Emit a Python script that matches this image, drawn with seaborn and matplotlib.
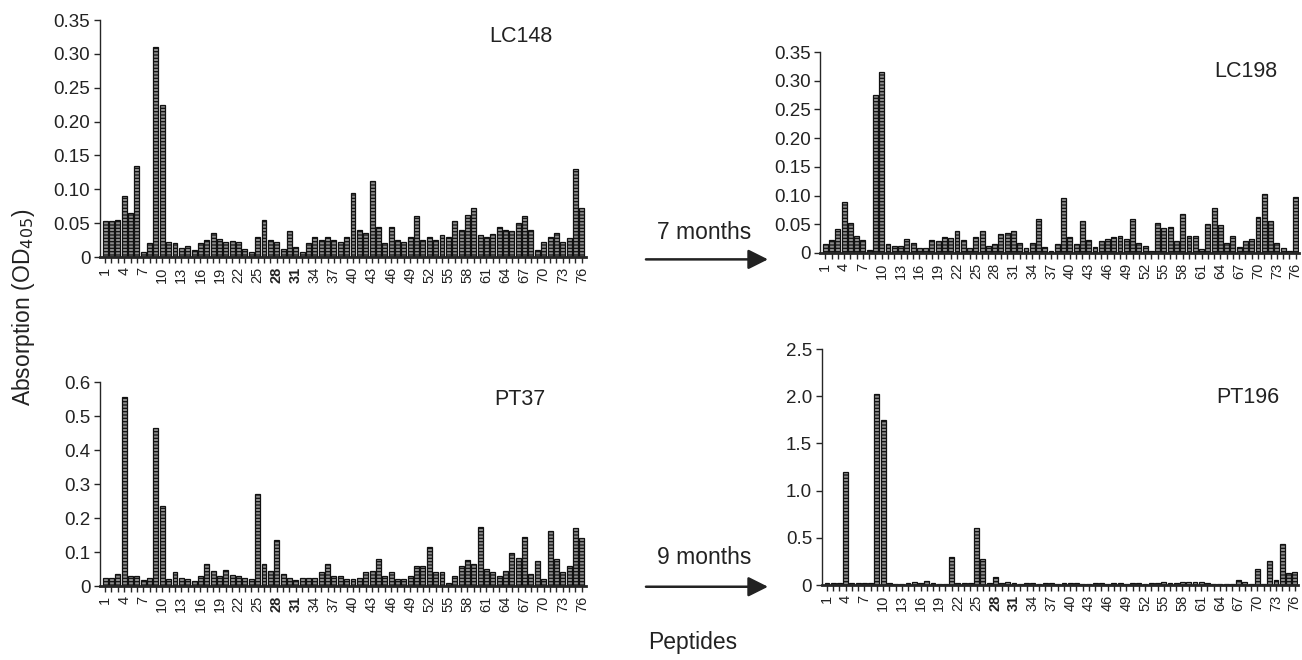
import numpy as np
import pandas as pd
import matplotlib
matplotlib.use("Agg")
import matplotlib.pyplot as plt
import seaborn as sns

# -------------------------------
# Data
# -------------------------------
peptides = [str(i) for i in range(1, 77)]

lc148 = [0.053, 0.053, 0.054, 0.090, 0.065, 0.135, 0.008, 0.020, 0.310, 0.225,
         0.022, 0.020, 0.013, 0.016, 0.010, 0.020, 0.025, 0.035, 0.026, 0.022,
         0.024, 0.022, 0.012, 0.008, 0.030, 0.055, 0.025, 0.022, 0.012, 0.038,
         0.015, 0.008, 0.020, 0.030, 0.025, 0.030, 0.025, 0.022, 0.030, 0.095,
         0.040, 0.035, 0.112, 0.045, 0.020, 0.045, 0.025, 0.022, 0.030, 0.060,
         0.025, 0.030, 0.025, 0.032, 0.030, 0.053, 0.040, 0.062, 0.072, 0.032,
         0.030, 0.034, 0.044, 0.040, 0.038, 0.050, 0.060, 0.040, 0.010, 0.022,
         0.030, 0.035, 0.022, 0.028, 0.130, 0.073]

lc198 = [0.015, 0.022, 0.042, 0.088, 0.053, 0.030, 0.022, 0.005, 0.275, 0.315,
         0.015, 0.012, 0.012, 0.025, 0.018, 0.008, 0.008, 0.022, 0.020, 0.028,
         0.026, 0.038, 0.023, 0.008, 0.027, 0.038, 0.012, 0.015, 0.033, 0.035,
         0.038, 0.018, 0.008, 0.017, 0.060, 0.010, 0.003, 0.016, 0.095, 0.028,
         0.016, 0.055, 0.022, 0.010, 0.020, 0.025, 0.028, 0.030, 0.024, 0.060,
         0.018, 0.012, 0.003, 0.053, 0.043, 0.046, 0.020, 0.068, 0.030, 0.030,
         0.007, 0.050, 0.078, 0.048, 0.018, 0.030, 0.010, 0.020, 0.024, 0.062,
         0.103, 0.055, 0.017, 0.008, 0.003, 0.098]

pt37 = [0.025, 0.025, 0.035, 0.555, 0.030, 0.030, 0.018, 0.025, 0.465, 0.235,
        0.022, 0.040, 0.025, 0.022, 0.015, 0.030, 0.065, 0.045, 0.030, 0.048,
        0.032, 0.028, 0.025, 0.022, 0.270, 0.065, 0.043, 0.135, 0.035, 0.025,
        0.018, 0.025, 0.025, 0.025, 0.040, 0.065, 0.030, 0.030, 0.022, 0.020,
        0.025, 0.040, 0.045, 0.080, 0.030, 0.040, 0.022, 0.022, 0.028, 0.060,
        0.060, 0.115, 0.040, 0.040, 0.010, 0.030, 0.060, 0.078, 0.065, 0.175,
        0.050, 0.040, 0.030, 0.045, 0.098, 0.082, 0.145, 0.035, 0.075, 0.022,
        0.162, 0.080, 0.040, 0.060, 0.170, 0.140]

pt196 = [0.02, 0.02, 0.02, 1.20, 0.02, 0.02, 0.02, 0.02, 2.02, 1.75,
         0.02, 0.015, 0.015, 0.02, 0.03, 0.025, 0.045, 0.02, 0.015, 0.015,
         0.30, 0.02, 0.02, 0.02, 0.60, 0.28, 0.02, 0.09, 0.02, 0.03,
         0.02, 0.015, 0.02, 0.02, 0.015, 0.02, 0.02, 0.015, 0.02, 0.02,
         0.02, 0.015, 0.015, 0.02, 0.02, 0.015, 0.02, 0.02, 0.015, 0.02,
         0.02, 0.015, 0.02, 0.02, 0.03, 0.02, 0.02, 0.03, 0.035, 0.03,
         0.035, 0.02, 0.015, 0.015, 0.015, 0.015, 0.05, 0.03, 0.015, 0.17,
         0.015, 0.25, 0.05, 0.43, 0.13, 0.14]

lc_ticks = [0, 0.05, 0.10, 0.15, 0.20, 0.25, 0.30, 0.35]
lc_ticklabels = ["0", "0.05", "0.10", "0.15", "0.20", "0.25", "0.30", "0.35"]
pt37_ticks = [0, 0.1, 0.2, 0.3, 0.4, 0.5, 0.6]
pt37_ticklabels = ["0", "0.1", "0.2", "0.3", "0.4", "0.5", "0.6"]
pt196_ticks = [0, 0.5, 1.0, 1.5, 2.0, 2.5]
pt196_ticklabels = ["0", "0.5", "1.0", "1.5", "2.0", "2.5"]

# -------------------------------
# Style
# -------------------------------
sns.set_style("ticks")
plt.rcParams['font.family'] = ['Liberation Sans', 'DejaVu Sans']
plt.rcParams['hatch.linewidth'] = 0.9

fig = plt.figure(figsize=(13.02, 6.6), dpi=100)

panels = [
    # values, axes rect, yticks, yticklabels, ymax, bold labels
    (lc148, [0.0768, 0.6106, 0.373, 0.359], lc_ticks, lc_ticklabels, 0.35, True),
    (lc198, [0.6300, 0.6167, 0.368, 0.3045], lc_ticks, lc_ticklabels, 0.35, False),
    (pt37, [0.0768, 0.1121, 0.373, 0.309], pt37_ticks, pt37_ticklabels, 0.6, True),
    (pt196, [0.6313, 0.1136, 0.366, 0.3576], pt196_ticks, pt196_ticklabels, 2.5, True),
]

for vals, rect, yt, ytl, ymax, bold in panels:
    ax = fig.add_axes(rect)
    df = pd.DataFrame({'peptide': peptides, 'od': vals})
    sns.barplot(data=df, x='peptide', y='od', ax=ax, color='#8c8c8c',
                saturation=1, width=0.78, edgecolor='#111111',
                linewidth=0.9, hatch='-----')
    ax.set_xlim(-0.8, 75.6)
    ax.set_ylim(0, ymax)
    ax.set_yticks(yt)
    ax.set_yticklabels(ytl, fontsize=13.5, color='#222222')
    ax.set_xticks(range(76))
    ax.set_xticklabels([p if i % 3 == 0 else '' for i, p in enumerate(peptides)],
                       rotation=90, fontsize=10.5, color='#222222')
    if bold:
        for lab in ax.get_xticklabels():
            if lab.get_text() in ('28', '31'):
                lab.set_fontweight('bold')
    ax.tick_params(axis='x', length=4, width=1.0, pad=3)
    ax.tick_params(axis='y', length=4, width=1.0, pad=3)
    ax.set_xlabel('')
    ax.set_ylabel('')
    sns.despine(ax=ax)
    ax.spines['bottom'].set_linewidth(2.0)
    ax.spines['left'].set_linewidth(1.0)
    ax.set_facecolor('none')

# panel names
fig.text(0.400, 0.944, "LC148", fontsize=15.5, ha='center', va='center', color='#222222')
fig.text(0.957, 0.891, "LC198", fontsize=15.5, ha='center', va='center', color='#222222')
fig.text(0.399, 0.394, "PT37", fontsize=15.5, ha='center', va='center', color='#222222')
fig.text(0.958, 0.398, "PT196", fontsize=15.5, ha='center', va='center', color='#222222')

# time arrows
fig.text(0.541, 0.647, "7 months", fontsize=16.5, ha='center', va='center', color='#222222')
fig.text(0.541, 0.155, "9 months", fontsize=16.5, ha='center', va='center', color='#222222')
for y0 in (0.607, 0.111):
    fig.add_artist(matplotlib.patches.FancyArrowPatch(
        (0.494, y0), (0.592, y0), transform=fig.transFigure,
        arrowstyle='-|>', mutation_scale=30, lw=1.8, color='#222222'))

fig.text(0.532, 0.027, "Peptides", fontsize=16.5, ha='center', va='center', color='#222222')
fig.text(0.018, 0.535, "Absorption (OD$_{405}$)", fontsize=16.5, rotation=90,
         ha='center', va='center', color='#222222')

fig.savefig("out.png", dpi=100)
